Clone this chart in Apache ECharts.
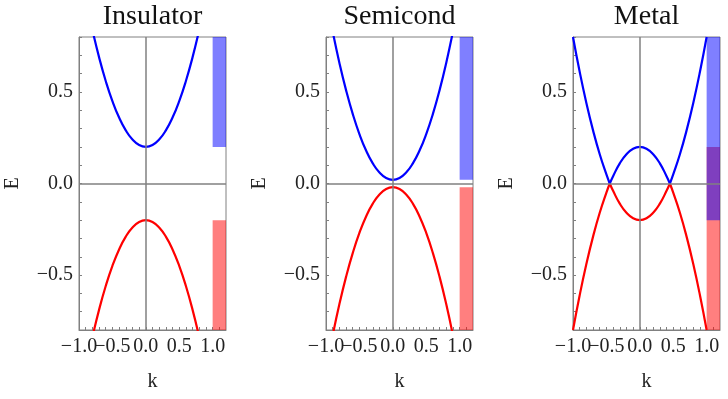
<!DOCTYPE html>
<html>
<head>
<meta charset="utf-8">
<script src="https://cdn.jsdelivr.net/npm/echarts@6/dist/echarts.min.js"></script>
<style>
html,body{margin:0;padding:0;background:#fff;}
#bandChart{width:728px;height:399px;}
</style>
</head>
<body>
<div id="bandChart"></div>
<script>
// panel titles
const panelTitles = ['Insulator', 'Semicond', 'Metal'];

// k samples
const kGrid = [-1.0, -0.9, -0.8, -0.7, -0.6, -0.5, -0.4, -0.3, -0.2, -0.1, 0, 0.1, 0.2, 0.3, 0.4, 0.5, 0.6, 0.7, 0.8, 0.9, 1.0];
const kMetal = [-1.0, -0.9, -0.8, -0.7, -0.6, -0.5, -0.45, -0.4, -0.3, -0.2, -0.1, 0, 0.1, 0.2, 0.3, 0.4, 0.45, 0.5, 0.6, 0.7, 0.8, 0.9, 1.0];

// energies
const insulatorUpper = [1.2, 1.01, 0.84, 0.69, 0.56, 0.45, 0.36, 0.29, 0.24, 0.21, 0.2, 0.21, 0.24, 0.29, 0.36, 0.45, 0.56, 0.69, 0.84, 1.01, 1.2];
const insulatorLower = [-1.2, -1.01, -0.84, -0.69, -0.56, -0.45, -0.36, -0.29, -0.24, -0.21, -0.2, -0.21, -0.24, -0.29, -0.36, -0.45, -0.56, -0.69, -0.84, -1.01, -1.2];
const semicondUpper = [1.02, 0.83, 0.66, 0.51, 0.38, 0.27, 0.18, 0.11, 0.06, 0.03, 0.02, 0.03, 0.06, 0.11, 0.18, 0.27, 0.38, 0.51, 0.66, 0.83, 1.02];
const semicondLower = [-1.02, -0.83, -0.66, -0.51, -0.38, -0.27, -0.18, -0.11, -0.06, -0.03, -0.02, -0.03, -0.06, -0.11, -0.18, -0.27, -0.38, -0.51, -0.66, -0.83, -1.02];
const metalUpper = [0.8, 0.61, 0.44, 0.29, 0.16, 0.05, 0, 0.04, 0.11, 0.16, 0.19, 0.2, 0.19, 0.16, 0.11, 0.04, 0, 0.05, 0.16, 0.29, 0.44, 0.61, 0.8];
const metalLower = [-0.8, -0.61, -0.44, -0.29, -0.16, -0.05, 0, -0.04, -0.11, -0.16, -0.19, -0.2, -0.19, -0.16, -0.11, -0.04, 0, -0.05, -0.16, -0.29, -0.44, -0.61, -0.8];
// metal curve has cusps at these indexes
const metalBreaks = [0, 6, 16, 22];

// energy ranges of the bands [bottom, top]
const upperBands = [[0.2, 0.8], [0.02, 0.8], [-0.2, 0.8]];
const lowerBands = [[-0.8, -0.2], [-0.8, -0.02], [-0.8, 0.2]];

// axis ticks (k labels split in two sets, they overlap in the original)
const kTicks = [-1.0, 0, 1.0];
const kHalfTicks = [-0.5, 0.5];
const kMinorTicks = [-1.0, -0.9, -0.8, -0.7, -0.6, -0.5, -0.4, -0.3, -0.2, -0.1, 0, 0.1, 0.2, 0.3, 0.4, 0.5, 0.6, 0.7, 0.8, 0.9, 1.0, 1.1];
const eTicks = [-0.5, 0, 0.5];
const eMinorTicks = [-0.8, -0.7, -0.6, -0.5, -0.4, -0.3, -0.2, -0.1, 0, 0.1, 0.2, 0.3, 0.4, 0.5, 0.6, 0.7, 0.8];

const FONT = '"Liberation Serif", "DejaVu Serif", serif';
const GRAY = '#808080';
const gridLefts = [79, 326, 573];
const gridWidth = 147;

function zip(ks, es) {
    return ks.map((k, i) => [k, es[i]]);
}
function fmt(v) {
    return v.toFixed(1).replace('-', '\u2212');
}

let grids = [], xAxes = [], yAxes = [], titles = [], series = [];

gridLefts.forEach((left, i) => {
    grids.push({
        left: left, top: 37, width: gridWidth, height: 293,
        show: true, borderColor: GRAY, borderWidth: 1,
        outerBoundsMode: 'none'
    });
    // titles centred over each panel
    titles.push({
        type: 'text',
        x: left + gridWidth / 2,
        y: 3,
        style: {
            text: panelTitles[i], align: 'center', verticalAlign: 'top',
            font: '28px ' + FONT, fill: '#111'
        }
    });
    xAxes.push({
        type: 'value', gridIndex: i, min: -1, max: 1.2,
        name: 'k', nameLocation: 'middle', nameGap: 42,
        nameTextStyle: {fontFamily: FONT, fontSize: 20, color: '#222'},
        axisLine: {show: true, onZero: false, lineStyle: {color: GRAY}},
        axisTick: {show: true, inside: true, length: 3, customValues: kMinorTicks, lineStyle: {color: GRAY}},
        axisLabel: {
            customValues: kTicks, margin: 7, hideOverlap: false,
            fontFamily: FONT, fontSize: 20, color: '#222', formatter: fmt
        },
        splitLine: {show: false}
    });
    yAxes.push({
        type: 'value', gridIndex: i, min: -0.8, max: 0.8,
        name: 'E', nameLocation: 'middle', nameGap: 56,
        nameTextStyle: {fontFamily: FONT, fontSize: 20, color: '#222'},
        axisLine: {show: true, onZero: false, lineStyle: {color: GRAY}},
        axisTick: {show: true, inside: true, length: 3, customValues: eMinorTicks, lineStyle: {color: GRAY}},
        axisLabel: {customValues: eTicks, margin: 6, fontFamily: FONT, fontSize: 20, color: '#222', formatter: fmt},
        splitLine: {show: false}
    });
});
// second label-only k axis per panel for the ±0.5 labels
gridLefts.forEach((left, i) => {
    xAxes.push({
        type: 'value', gridIndex: i, min: -1, max: 1.2, position: 'bottom',
        axisLine: {show: false}, axisTick: {show: false}, splitLine: {show: false},
        axisLabel: {
            customValues: kHalfTicks, margin: 7, hideOverlap: false,
            fontFamily: FONT, fontSize: 20, color: '#222', formatter: fmt
        }
    });
});

function curve(idx, data, color, extra) {
    return Object.assign({
        type: 'line', xAxisIndex: idx, yAxisIndex: idx,
        data: data, smooth: true, symbol: 'none', clip: true,
        lineStyle: {color: color, width: 2.2},
        z: 3
    }, extra || {});
}
function bandArea(idx, range, color) {
    return {
        silent: true,
        itemStyle: {color: color},
        data: [[{xAxis: 1.0, yAxis: range[0]}, {xAxis: 1.2, yAxis: range[1]}]]
    };
}
function centerLines() {
    return {
        silent: true, symbol: 'none', label: {show: false},
        lineStyle: {color: GRAY, type: 'solid', width: 1.5},
        data: [{xAxis: 0}, {yAxis: 0}]
    };
}

// insulator and semiconductor
[[insulatorUpper, insulatorLower], [semicondUpper, semicondLower]].forEach((pair, i) => {
    series.push(curve(i, zip(kGrid, pair[1]), '#ff0000', {
        markArea: bandArea(i, lowerBands[i], 'rgba(255,0,0,0.5)'),
        markLine: centerLines()
    }));
    series.push(curve(i, zip(kGrid, pair[0]), '#0000ff', {
        markArea: bandArea(i, upperBands[i], 'rgba(0,0,255,0.5)')
    }));
});

// metal, drawn piecewise so the crossings stay sharp
for (let s = 0; s < metalBreaks.length - 1; s++) {
    let a = metalBreaks[s], b = metalBreaks[s + 1] + 1;
    let lo = curve(2, zip(kMetal.slice(a, b), metalLower.slice(a, b)), '#ff0000');
    let up = curve(2, zip(kMetal.slice(a, b), metalUpper.slice(a, b)), '#0000ff');
    if (s === 0) {
        lo.markArea = bandArea(2, lowerBands[2], 'rgba(255,0,0,0.5)');
        lo.markLine = centerLines();
        up.markArea = bandArea(2, upperBands[2], 'rgba(0,0,255,0.5)');
    }
    series.push(lo, up);
}

let option = {
    backgroundColor: '#ffffff',
    animation: false,
    graphic: titles,
    grid: grids,
    xAxis: xAxes,
    yAxis: yAxes,
    series: series
};

let chart = echarts.init(document.getElementById('bandChart'));
chart.setOption(option);
window.addEventListener('resize', () => {
    chart.resize();
});
</script>
</body>
</html>
